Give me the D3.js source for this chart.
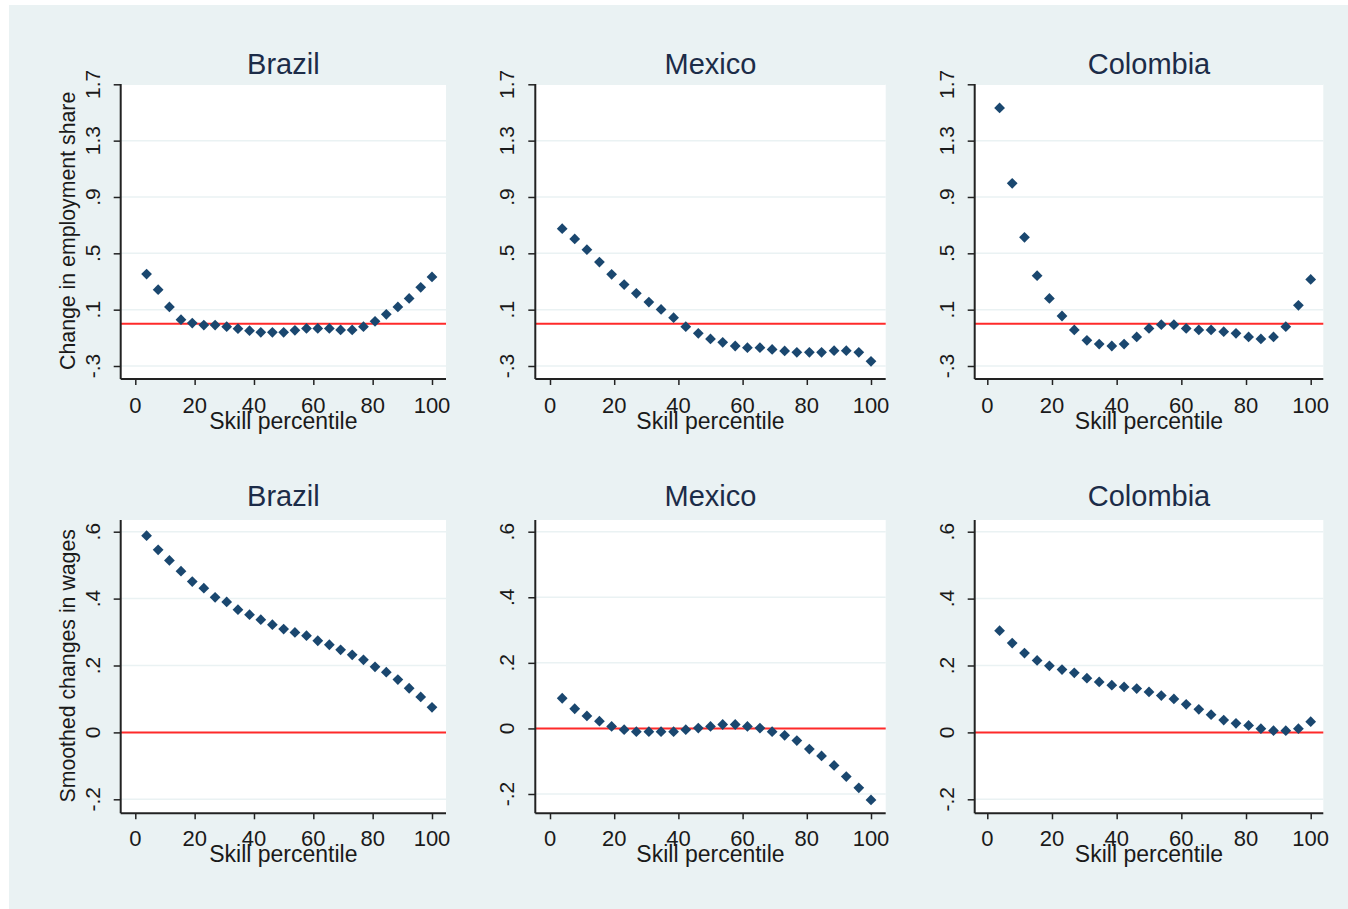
<!DOCTYPE html>
<html>
<head>
<meta charset="utf-8">
<script src="https://cdn.jsdelivr.net/npm/d3@7"></script>
<style>
body { margin: 0; background: #ffffff; }
svg { display: block; font-family: "Liberation Sans", Arial, sans-serif; }
</style>
</head>
<body>
<script>
// skill percentile of each point (26 bins)
var pct = [3.8, 7.7, 11.5, 15.4, 19.2, 23.1, 26.9, 30.8, 34.6, 38.5, 42.3, 46.2, 50,
	53.8, 57.7, 61.5, 65.4, 69.2, 73.1, 76.9, 80.8, 84.6, 88.5, 92.3, 96.2, 100];

// change in employment share
var empBrazil = [0.353, 0.242, 0.119, 0.029, 0.005, -0.009, -0.009, -0.021, -0.035, -0.049, -0.061, -0.061, -0.061,
	-0.047, -0.033, -0.033, -0.033, -0.044, -0.044, -0.021, 0.017, 0.067, 0.119, 0.180, 0.259, 0.332];
var empMexico = [0.675, 0.602, 0.526, 0.438, 0.351, 0.278, 0.216, 0.154, 0.102, 0.043, -0.021, -0.068, -0.108,
	-0.132, -0.158, -0.170, -0.170, -0.182, -0.193, -0.203, -0.203, -0.203, -0.191, -0.191, -0.203, -0.267];
var empColombia = [1.532, 0.997, 0.614, 0.341, 0.180, 0.055, -0.044, -0.118, -0.144, -0.158, -0.144, -0.094, -0.033,
	-0.007, -0.007, -0.033, -0.044, -0.044, -0.056, -0.068, -0.094, -0.108, -0.094, -0.021, 0.131, 0.315];

// smoothed changes in wages
var wageBrazil = [0.588, 0.546, 0.514, 0.482, 0.451, 0.431, 0.404, 0.390, 0.367, 0.352, 0.337, 0.322, 0.309,
	0.299, 0.289, 0.274, 0.262, 0.247, 0.232, 0.217, 0.196, 0.180, 0.158, 0.132, 0.106, 0.075];
var wageMexico = [0.092, 0.060, 0.038, 0.022, 0.006, -0.004, -0.010, -0.010, -0.010, -0.010, -0.004, 0.001, 0.006,
	0.012, 0.012, 0.006, 0.001, -0.010, -0.021, -0.037, -0.063, -0.084, -0.113, -0.147, -0.181, -0.218];
var wageColombia = [0.304, 0.267, 0.237, 0.215, 0.199, 0.188, 0.178, 0.162, 0.151, 0.141, 0.136, 0.131, 0.121,
	0.110, 0.100, 0.084, 0.069, 0.053, 0.037, 0.027, 0.021, 0.011, 0.005, 0.005, 0.011, 0.032];

var xTicks = [0, 20, 40, 60, 80, 100];
var empTicks = [-0.3, 0.1, 0.5, 0.9, 1.3, 1.7];
var empTickLabels = ['-.3', '.1', '.5', '.9', '1.3', '1.7'];
var wageTicks = [-0.2, 0, 0.2, 0.4, 0.6];
var wageTickLabels = ['-.2', '0', '.2', '.4', '.6'];

var width = 1348, height = 909;
var svg = d3.select('body').append('svg').attr('width', width).attr('height', height);

svg.append('rect').attr('x', 9).attr('y', 5).attr('width', width - 9).attr('height', height - 5)
	.style('fill', '#eaf2f3');

// column geometry: left axis, right edge, pixel of 0 and 100
var cols = [
	{left: 120.7, right: 446, x0: 135.3, x1: 432},
	{left: 535.3, right: 885.7, x0: 550, x1: 871},
	{left: 974.7, right: 1323.3, x0: 987.3, x1: 1310.7}
];
var rows = [
	{top: 84, bottom: 379, ticks: empTicks, labels: empTickLabels, title: 'Change in employment share',
		titleY: 74, tickY: 413, labelY: 429, yt: 230.8},
	{top: 520, bottom: 813.3, ticks: wageTicks, labels: wageTickLabels, title: 'Smoothed changes in wages',
		titleY: 506, tickY: 846, labelY: 862, yt: 665.8}
];

var panels = [
	{row: 0, col: 0, name: 'Brazil', data: empBrazil, yr: [366, 84.3]},
	{row: 0, col: 1, name: 'Mexico', data: empMexico, yr: [366, 84.3]},
	{row: 0, col: 2, name: 'Colombia', data: empColombia, yr: [366, 84.3]},
	{row: 1, col: 0, name: 'Brazil', data: wageBrazil, yr: [799.3, 531.7]},
	{row: 1, col: 1, name: 'Mexico', data: wageMexico, yr: [794, 531.7]},
	{row: 1, col: 2, name: 'Colombia', data: wageColombia, yr: [799.3, 531.7]}
];

panels.forEach(function(p){
	var c = cols[p.col], r = rows[p.row];
	var x = d3.scaleLinear().domain([0, 100]).range([c.x0, c.x1]);
	var yDom = p.row === 0 ? [-0.3, 1.7] : [-0.2, 0.6];
	var y = d3.scaleLinear().domain(yDom).range(p.yr);
	var g = svg.append('g');

	g.append('rect').attr('x', c.left).attr('y', r.top)
		.attr('width', c.right - c.left).attr('height', r.bottom - r.top)
		.style('fill', '#ffffff');

	// gridlines
	g.selectAll('.grid').data(r.ticks).enter().append('line')
		.attr('x1', c.left).attr('x2', c.right)
		.attr('y1', function(d){ return y(d); }).attr('y2', function(d){ return y(d); })
		.style('stroke', '#eaf2f3').style('stroke-width', 1.5);

	// zero line
	g.append('line').attr('x1', c.left).attr('x2', c.right)
		.attr('y1', y(0)).attr('y2', y(0))
		.style('stroke', '#ff2a2a').style('stroke-width', 2);

	// y axis
	var yAxis = d3.axisLeft(y).tickValues(r.ticks).tickSize(7).tickFormat('');
	var ya = g.append('g').attr('transform', 'translate(' + c.left + ',0)').call(yAxis);
	ya.select('.domain').attr('d', 'M0,' + r.top + 'V' + r.bottom);
	ya.selectAll('line').style('stroke', '#222').style('stroke-width', 1.5);
	ya.select('.domain').style('stroke', '#222').style('stroke-width', 2);

	g.selectAll('.ylab').data(r.ticks).enter().append('text')
		.attr('transform', function(d){ return 'translate(' + (c.left - 28.5) + ',' + y(d) + ') rotate(-90)'; })
		.attr('text-anchor', 'middle').attr('dominant-baseline', 'central')
		.style('font-size', '21px').style('fill', '#1a1a1a')
		.text(function(d, i){ return r.labels[i]; });

	// x axis
	var xAxis = d3.axisBottom(x).tickValues(xTicks).tickSize(6).tickFormat('');
	var xa = g.append('g').attr('transform', 'translate(0,' + r.bottom + ')').call(xAxis);
	xa.select('.domain').attr('d', 'M' + c.left + ',0H' + c.right);
	xa.selectAll('line').style('stroke', '#222').style('stroke-width', 1.5);
	xa.select('.domain').style('stroke', '#222').style('stroke-width', 2);

	g.selectAll('.xlab').data(xTicks).enter().append('text')
		.attr('x', function(d){ return x(d); }).attr('y', r.tickY)
		.attr('text-anchor', 'middle')
		.style('font-size', '22px').style('fill', '#1a1a1a')
		.text(function(d){ return d; });

	g.append('text').attr('x', (c.left + c.right) / 2).attr('y', r.labelY)
		.attr('text-anchor', 'middle')
		.style('font-size', '23px').style('fill', '#1a1a1a')
		.text('Skill percentile');

	// panel title
	g.append('text').attr('x', (c.left + c.right) / 2).attr('y', r.titleY)
		.attr('text-anchor', 'middle')
		.style('font-size', '29px').style('fill', '#1c2c48')
		.text(p.name);

	if (p.col === 0) {
		g.append('text')
			.attr('transform', 'translate(68,' + r.yt + ') rotate(-90)')
			.attr('text-anchor', 'middle').attr('dominant-baseline', 'central')
			.style('font-size', '21.3px').style('fill', '#1a1a1a')
			.text(r.title);
	}

	// points
	g.selectAll('.pt').data(p.data).enter().append('path')
		.attr('d', d3.symbol().type(d3.symbolDiamond2).size(74))
		.attr('transform', function(d, i){ return 'translate(' + x(pct[i]) + ',' + y(d) + ')'; })
		.style('fill', '#1a476f');
});
</script>
</body>
</html>
